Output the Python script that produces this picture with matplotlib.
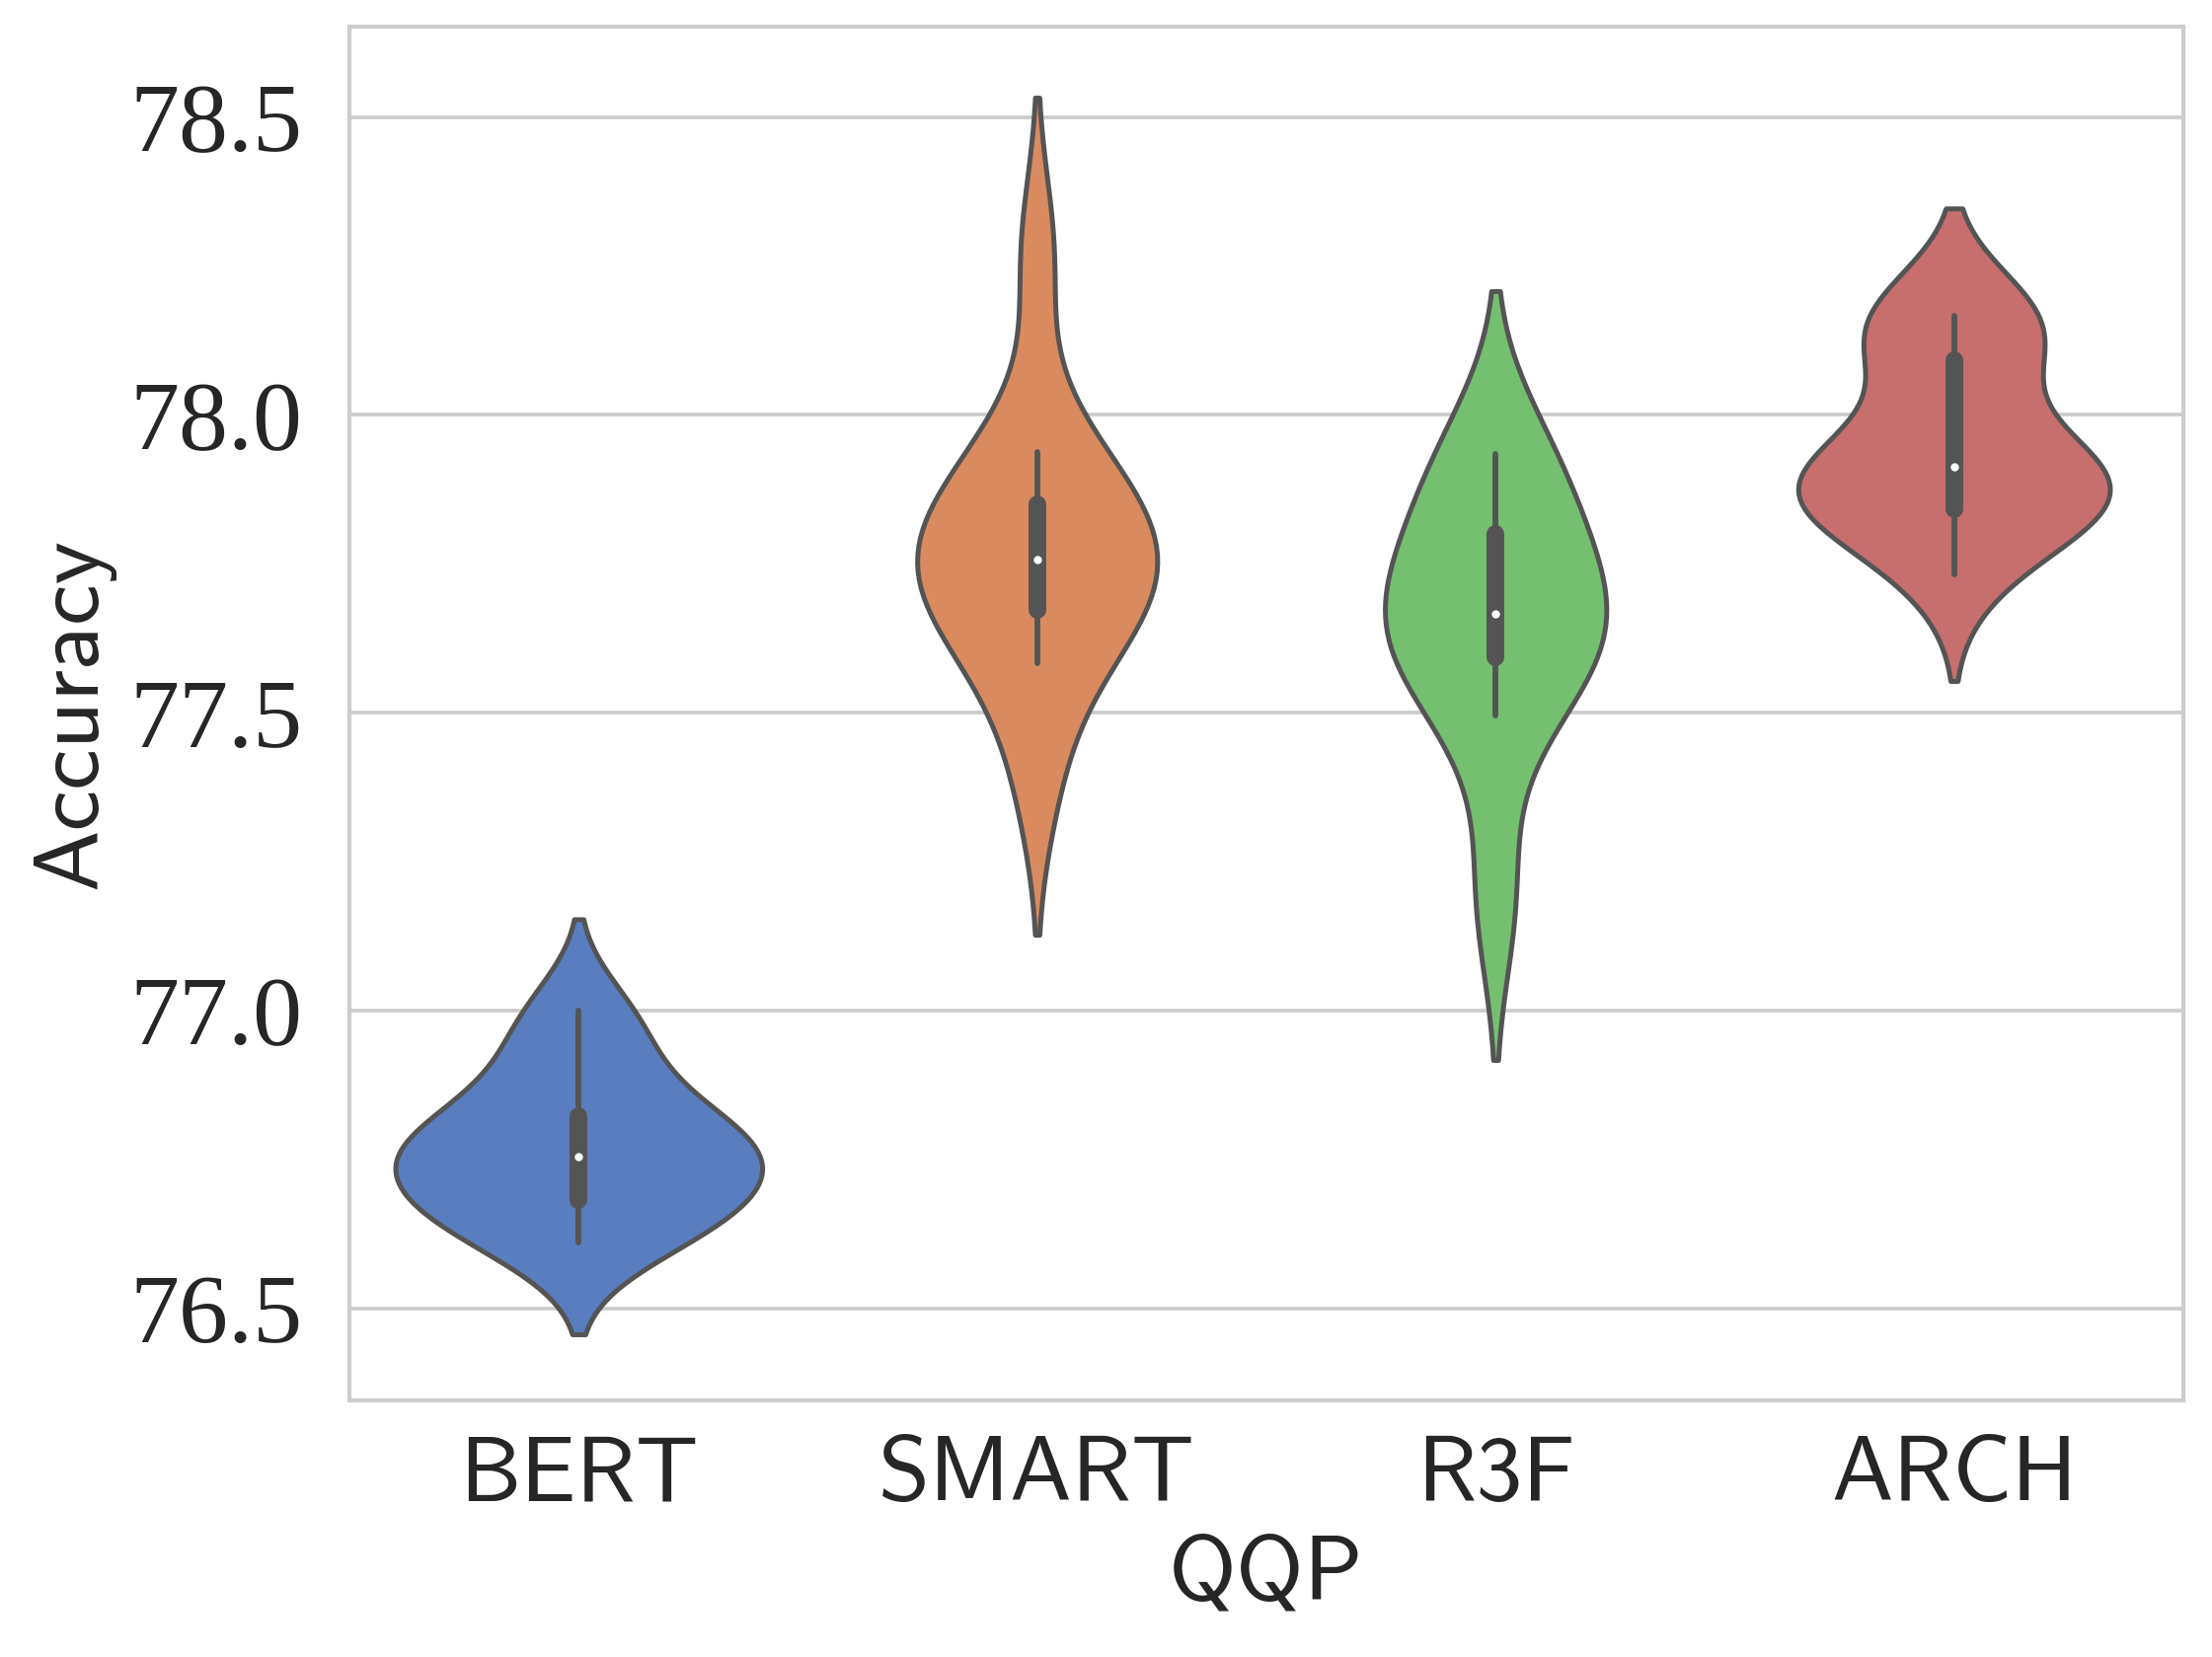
import os
import numpy as np
import pandas as pd
import matplotlib
matplotlib.use('Agg')
import matplotlib.pyplot as plt
from matplotlib.font_manager import FontProperties
import seaborn as sns

# accuracy on QQP per run
models = ['BERT', 'SMART', 'R3F', 'ARCH']
bert = [76.61, 76.65, 76.67, 76.72, 76.75, 76.76, 76.80, 76.83, 76.92, 77.00]
smart = [77.39, 77.583, 77.62, 77.69, 77.72, 77.75, 77.764, 77.79, 77.83, 77.91, 77.937, 78.27]
r3f = [77.19, 77.495, 77.58, 77.63, 77.65, 77.682, 77.70, 77.833, 77.90, 77.935]
arch = [77.733, 77.84, 77.84, 77.842, 77.87, 77.896, 77.93, 77.945, 78.07, 78.154, 78.16, 78.167]

runs = {'BERT': bert, 'SMART': smart, 'R3F': r3f, 'ARCH': arch}
df = pd.DataFrame([(m, v) for m in models for v in runs[m]], columns=['model', 'acc'])

sns.set_theme(style='whitegrid')
plt.rcParams['axes.edgecolor'] = '#cccccc'
plt.rcParams['axes.linewidth'] = 1.0
plt.rcParams['grid.color'] = '#cccccc'
plt.rcParams['grid.linewidth'] = 0.9

# computer modern sans for the words, times-like serif for the numbers
cmss = os.path.join(matplotlib.get_data_path(), 'fonts', 'ttf', 'cmss10.ttf')
if os.path.exists(cmss):
    sans = FontProperties(fname=cmss, size=22.5)
else:
    sans = FontProperties(family='Open Sans', size=21)
serif = FontProperties(family='Liberation Serif', size=24)

fig, ax = plt.subplots(figsize=(2241/300, 1679/300), dpi=300)
sns.violinplot(data=df, x='model', y='acc', hue='model', palette='muted',
               order=models, inner='box', linewidth=1.2, common_norm=True,
               inner_kws=dict(box_width=4.3, whis_width=1.4),
               legend=False, ax=ax)

# rounded box / whisker ends and a white median dot
for ln in ax.lines:
    ln.set_solid_capstyle('round')
    if ln.get_marker() not in ('None', None, ''):
        ln.set_marker('o')
        ln.set_markersize(2.0)
        ln.set_markeredgewidth(0)
        ln.set_markerfacecolor('white')

ax.set_ylim(76.346, 78.652)
ax.set_yticks([76.5, 77.0, 77.5, 78.0, 78.5])
ax.set_yticklabels(['76.5', '77.0', '77.5', '78.0', '78.5'], fontproperties=serif)
ax.set_xticks(range(4))
ax.set_xticklabels(models, fontproperties=sans)
ax.tick_params(axis='y', pad=5.5)
ax.tick_params(axis='x', pad=2.8)
ax.set_xlabel('QQP', fontproperties=sans, labelpad=4.2)
ax.set_ylabel('Accuracy', fontproperties=sans, labelpad=3.6)

fig.subplots_adjust(left=0.158, right=0.987, top=0.984, bottom=0.155)
fig.savefig('out.png', dpi=300)
